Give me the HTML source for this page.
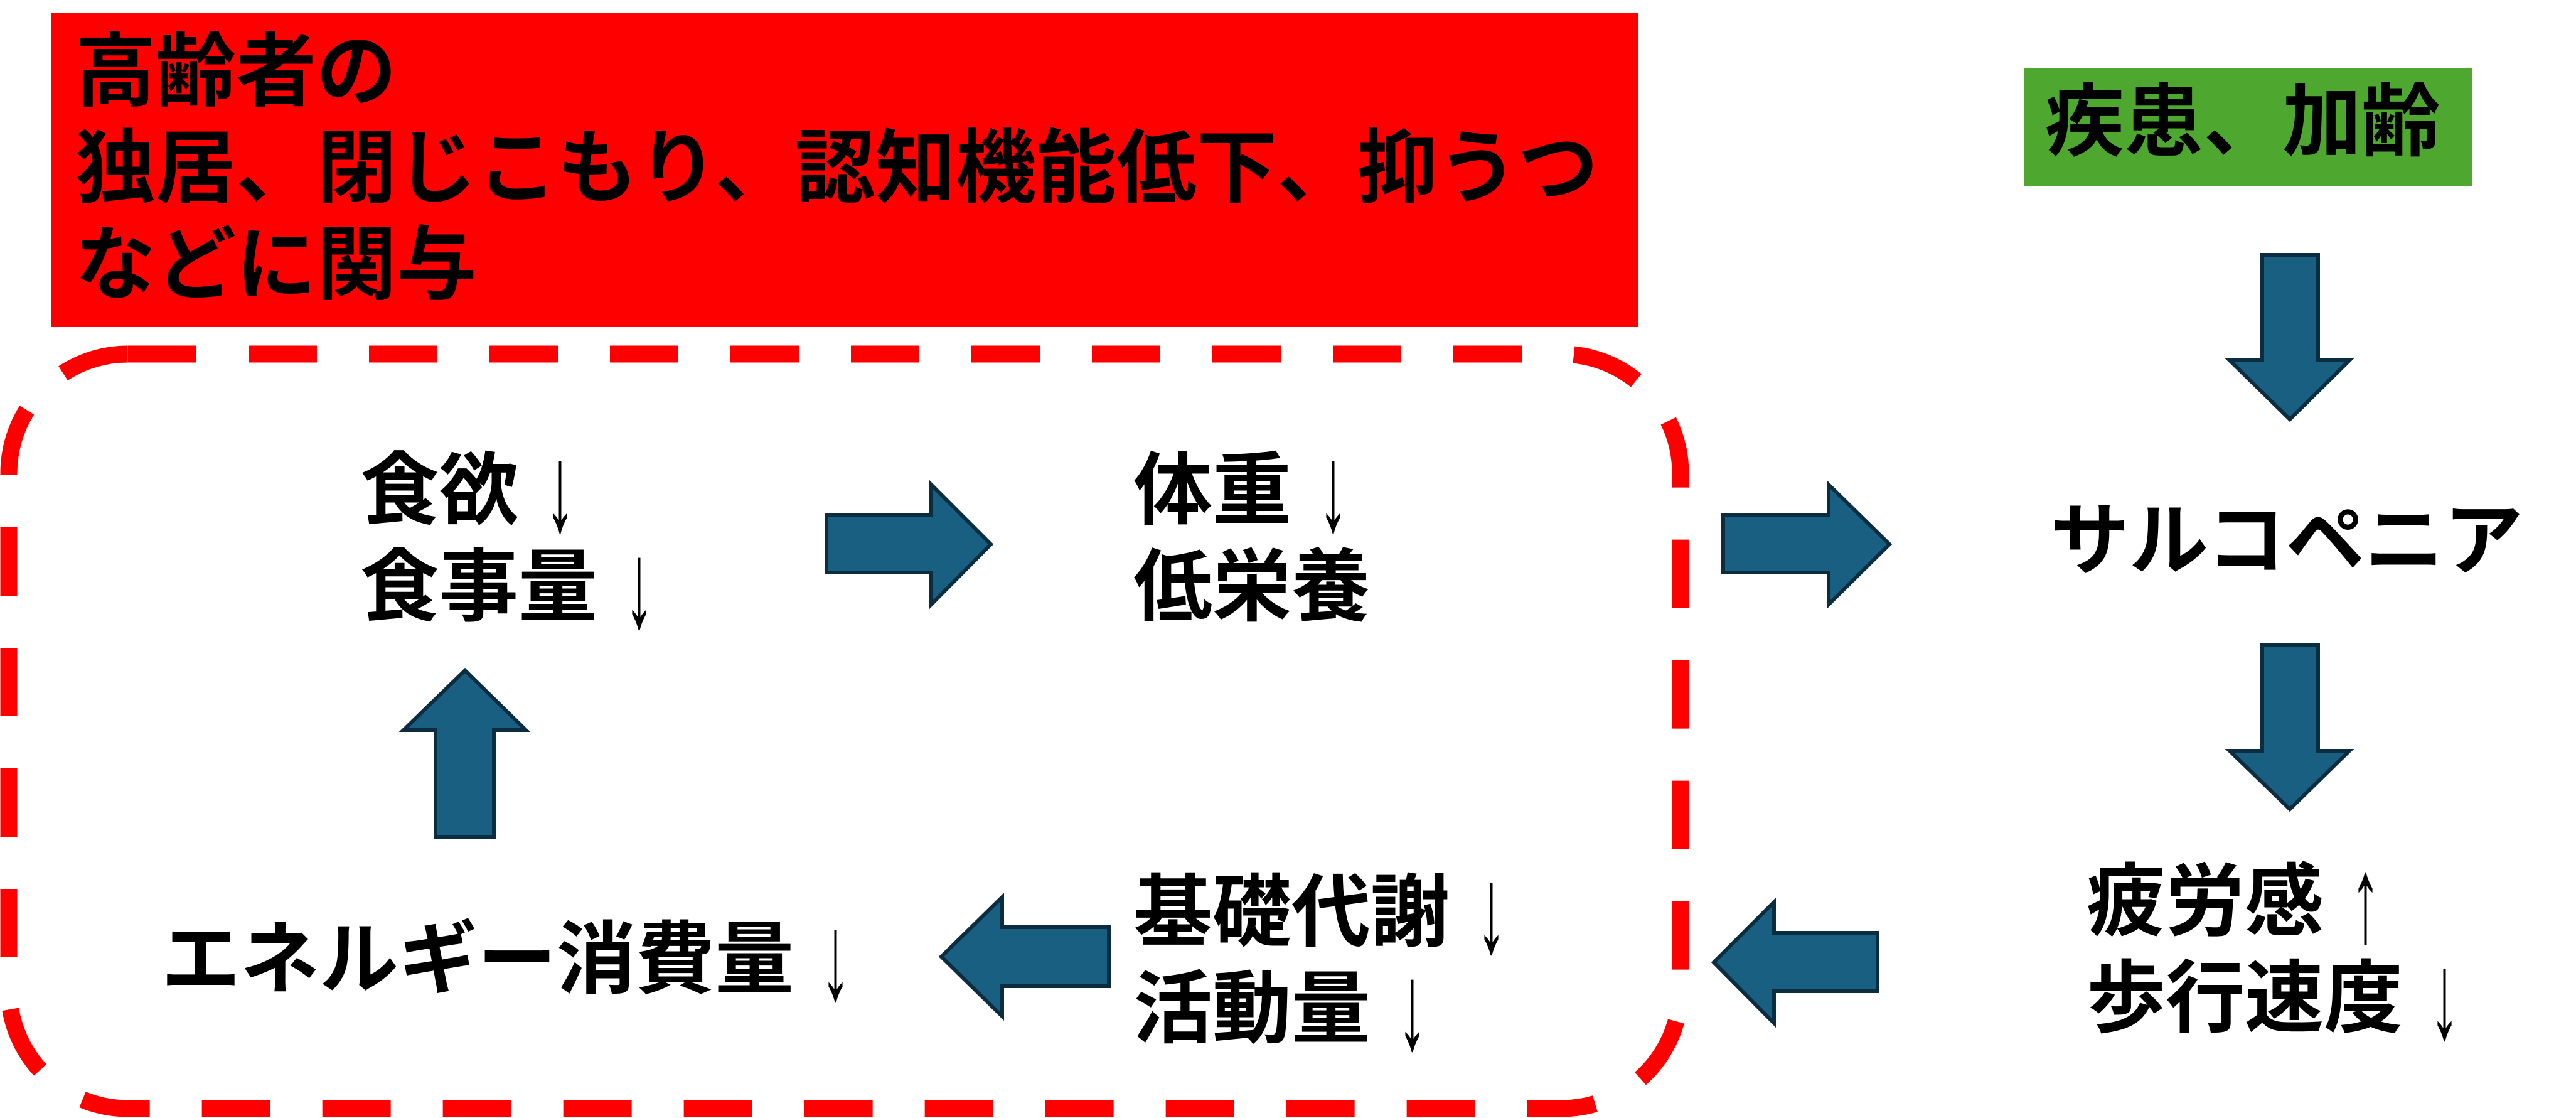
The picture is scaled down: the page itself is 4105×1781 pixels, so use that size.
<!DOCTYPE html>
<html><head><meta charset="utf-8"><style>
html,body{margin:0;padding:0;background:#fff;}
body{width:4105px;height:1781px;position:relative;overflow:hidden;font-family:"Liberation Sans","Noto Sans CJK JP",sans-serif;}
.t{position:absolute;font-weight:bold;font-size:126px;line-height:154px;color:#000;white-space:nowrap;}
.a{font-weight:normal;display:inline-block;transform:scale(0.75,1.55);transform-origin:50% 55%;}
</style></head><body>
<div style="position:absolute;left:81px;top:21px;width:2529px;height:500px;background:#ff0000;"></div>
<div style="position:absolute;left:3225px;top:108px;width:715px;height:188px;background:#4ea72e;"></div>
<svg width="4105" height="1781" style="position:absolute;left:0;top:0">
<rect x="14" y="564" width="2664" height="1202" rx="190" ry="190" fill="none" stroke="#ff0000" stroke-width="27" stroke-dasharray="109 83"/>
<g fill="#185f82" stroke="#0c2c40" stroke-width="6">
<polygon points="1317,820 1484,820 1484,772 1579,867 1484,963 1484,912 1317,912"/>
<polygon points="2746,820 2914,820 2914,772 3011,867 2914,963 2914,912 2746,912"/>
<polygon points="3605,406 3694,406 3694,574 3744,574 3649,668 3553,574 3605,574"/>
<polygon points="3605,1028 3694,1028 3694,1196 3744,1196 3649,1289 3553,1196 3605,1196"/>
<polygon points="2992,1486 2827,1486 2827,1437 2731,1533 2827,1630 2827,1579 2992,1579"/>
<polygon points="1767,1477 1597,1477 1597,1429 1500,1524 1597,1619 1597,1571 1767,1571"/>
<polygon points="694,1333 787,1333 787,1163 838,1163 741,1068 643,1163 694,1163"/>
</g>
</svg>
<div class="t" style="left:120px;top:38px;font-size:128px;">高齢者の<br>独居、閉じこもり、認知機能低下、抑うつ<br>などに関与</div>
<div class="t" style="left:3259px;top:118px;">疾患、加齢</div>
<div class="t" style="left:574px;top:705px;">食欲 <span class="a">↓</span><br>食事量 <span class="a">↓</span></div>
<div class="t" style="left:1806px;top:705px;">体重 <span class="a">↓</span><br>低栄養</div>
<div class="t" style="left:3267px;top:785px;">サルコペニア</div>
<div class="t" style="left:3325px;top:1360px;">疲労感 <span class="a">↑</span><br>歩行速度 <span class="a">↓</span></div>
<div class="t" style="left:1806px;top:1377px;">基礎代謝 <span class="a">↓</span><br>活動量 <span class="a">↓</span></div>
<div class="t" style="left:257px;top:1452px;">エネルギー消費量 <span class="a">↓</span></div>
</body></html>
